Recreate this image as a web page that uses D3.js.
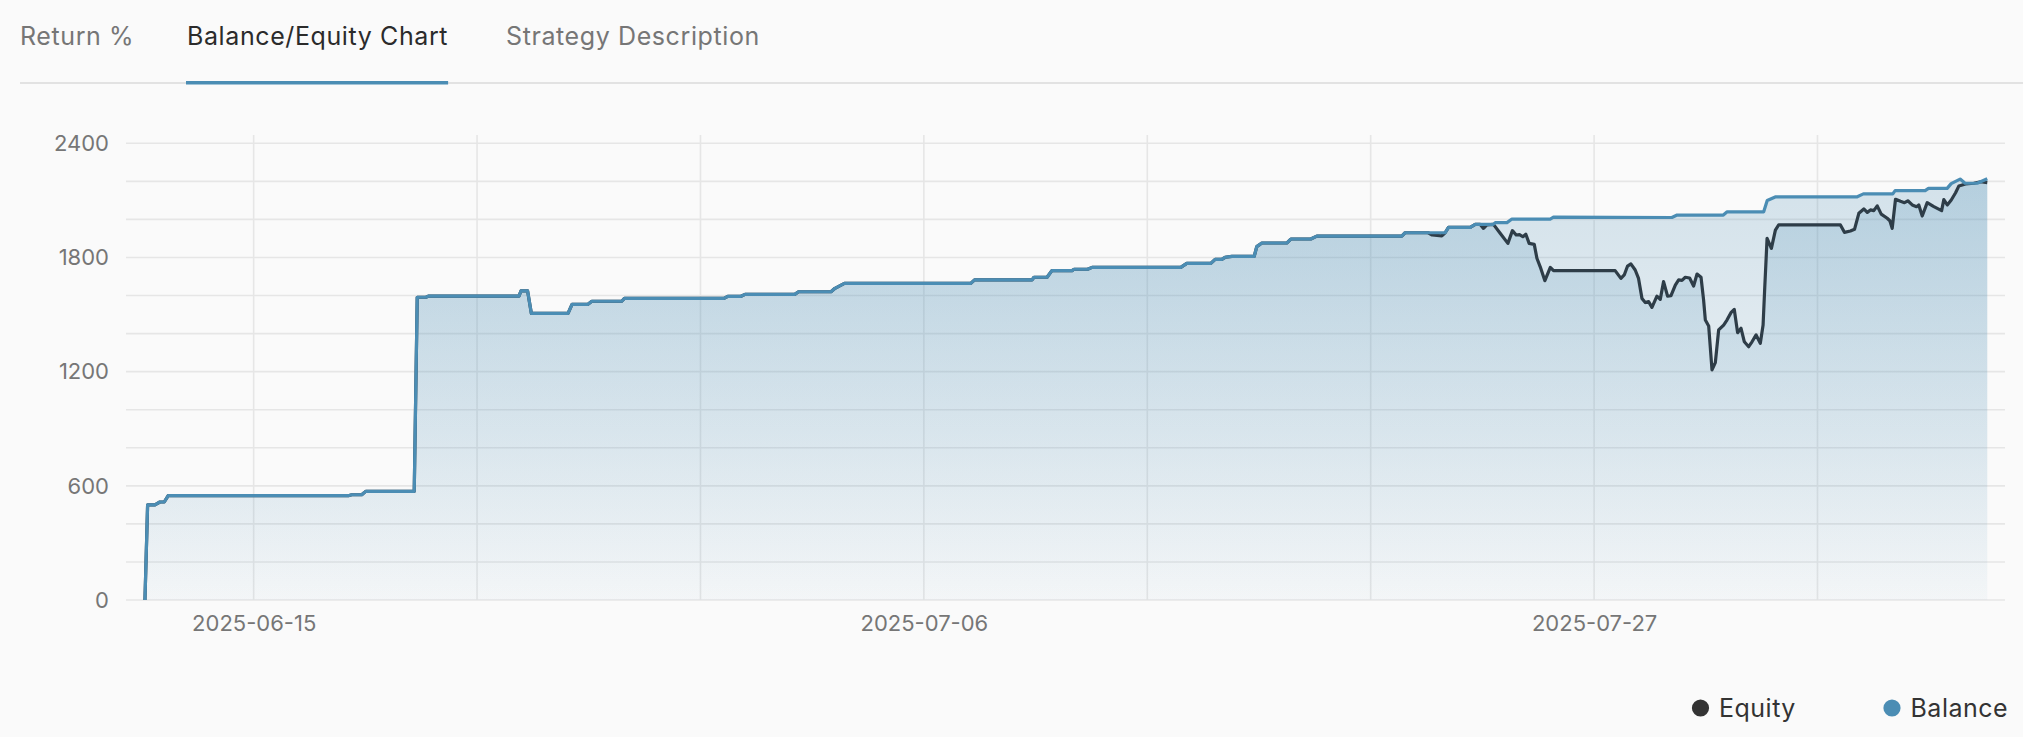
<!DOCTYPE html>
<html><head><meta charset="utf-8">
<script src="https://cdn.jsdelivr.net/npm/d3@7"></script>
<style>
html,body{margin:0;padding:0;background:#fafafa;}
svg{display:block;font-family:Inter,"Noto Sans",sans-serif;}
</style></head><body>
<svg id="chart" width="2023" height="737"></svg>
<script>
// ---------- data ----------
const tabs = ["Return %", "Balance/Equity Chart", "Strategy Description"];
const activeTab = 1;
const yTickLabels = [0, 600, 1200, 1800, 2400];
const yGridValues = [0, 200, 400, 600, 800, 1000, 1200, 1400, 1600, 1800, 2000, 2200, 2400];
const xTickLabels = ["2025-06-15", "2025-07-06", "2025-07-27"];
const xGridDates = ["2025-06-15", "2025-06-22", "2025-06-29", "2025-07-06", "2025-07-13", "2025-07-20", "2025-07-27", "2025-08-03"];
const seriesNames = ["Equity", "Balance"];

const balanceDates = [
  "06-11 14:15","06-11 16:15","06-11 21:45","06-12 01:30","06-12 04:45","06-12 07:45",
  "06-17 23:10","06-18 01:45","06-18 09:15","06-18 12:15","06-20 00:45","06-20 03:00",
  "06-20 09:35","06-20 11:20","06-23 07:30","06-23 09:00","06-23 14:00","06-23 16:50",
  "06-24 20:24","06-24 23:24","06-25 11:25","06-25 14:18","06-26 12:47","06-26 14:49",
  "06-29 17:38","06-29 20:30","06-30 06:30","06-30 09:30","07-01 22:54","07-02 01:45",
  "07-03 02:10","07-03 05:08","07-03 12:15","07-07 11:15","07-07 14:06","07-09 09:22",
  "07-09 10:48","07-09 20:38","07-10 00:15","07-10 15:27","07-10 16:57","07-11 03:07",
  "07-11 06:30","07-14 01:12","07-14 05:42","07-14 23:45","07-15 03:00","07-15 08:02",
  "07-15 10:30","07-15 15:36","07-16 08:24","07-16 10:20","07-16 14:10","07-17 08:53",
  "07-17 11:55","07-18 02:58","07-18 07:28","07-20 23:25","07-21 01:55","07-22 08:00",
  "07-22 10:30","07-23 02:52","07-23 06:37","07-23 20:10","07-23 21:40","07-24 06:28",
  "07-24 10:13","07-25 15:00","07-25 17:27","07-29 10:30","07-29 14:25","07-31 01:12",
  "07-31 04:03","08-01 07:33","08-01 10:11","08-01 16:12","08-04 05:30","08-04 10:30",
  "08-05 08:38","08-05 10:22","08-06 08:58","08-06 11:27","08-07 01:30","08-07 04:30",
  "08-07 11:15","08-07 15:00","08-08 00:05","08-08 07:40"
];
const balanceValues = [
  0, 500, 500, 515, 515, 548,
  548, 553, 553, 571, 571, 1591,
  1591, 1597, 1597, 1624, 1624, 1506,
  1506, 1554, 1554, 1570, 1570, 1585,
  1585, 1596, 1596, 1606, 1606, 1620,
  1620, 1638, 1664, 1664, 1682, 1682,
  1696, 1696, 1731, 1731, 1738, 1738,
  1748, 1748, 1769, 1769, 1790, 1790,
  1801, 1806, 1806, 1857, 1876, 1876,
  1897, 1897, 1912, 1912, 1930, 1930,
  1958, 1958, 1974, 1974, 1983, 1983,
  2002, 2002, 2012, 2010, 2023, 2023,
  2040, 2040, 2099, 2118, 2118, 2134,
  2134, 2151, 2151, 2163, 2163, 2188,
  2212, 2190, 2190, 2214
];

// equity equals balance (no open trades) until 07-21; afterwards its own readings
const equitySplitDate = "07-21 01:55";
const equityDates = [
  "07-21 19:15","07-21 22:17","07-22 05:30","07-22 08:00","07-22 10:30","07-23 02:52",
  "07-23 06:37","07-23 10:20","07-23 12:50","07-23 15:20","07-23 20:20","07-24 01:22",
  "07-24 07:10","07-24 10:35","07-24 13:25","07-24 15:55","07-24 18:25","07-24 20:40",
  "07-24 23:10","07-25 03:00","07-25 05:00","07-25 07:30","07-25 11:00","07-25 15:05",
  "07-25 17:30","07-27 15:50","07-27 20:10","07-27 22:40","07-28 01:10","07-28 03:40",
  "07-28 06:55","07-28 09:25","07-28 12:00","07-28 14:30","07-28 17:00","07-28 19:30",
  "07-28 23:15","07-29 01:45","07-29 04:15","07-29 07:15","07-29 09:50","07-29 13:05",
  "07-29 15:35","07-29 18:05","07-29 20:35","07-29 23:50","07-30 02:50","07-30 05:25",
  "07-30 08:25","07-30 10:20","07-30 11:40","07-30 14:10","07-30 16:40","07-30 19:10",
  "07-30 21:40","07-31 01:25","07-31 03:55","07-31 06:55","07-31 09:25","07-31 11:55",
  "07-31 14:30","07-31 17:00","07-31 20:15","07-31 22:45","08-01 01:50","08-01 05:00",
  "08-01 07:05","08-01 08:15","08-01 10:05","08-01 13:20","08-01 16:20","08-01 18:50",
  "08-03 17:15","08-03 20:15","08-04 00:45","08-04 03:50","08-04 07:05","08-04 10:50",
  "08-04 13:25","08-04 15:50","08-04 18:20","08-04 20:55","08-04 23:55","08-05 04:25",
  "08-05 06:25","08-05 08:10","08-05 10:40","08-05 14:25","08-05 17:25","08-05 19:55",
  "08-05 23:15","08-06 02:30","08-06 04:10","08-06 06:45","08-06 10:30","08-06 15:30",
  "08-06 21:20","08-06 23:00","08-07 01:35","08-07 04:35","08-07 07:50","08-07 10:20",
  "08-07 15:20","08-07 21:35","08-08 02:40","08-08 07:40"
];
const equityValues = [
  1930, 1918, 1914, 1930, 1958, 1958,
  1974, 1974, 1953, 1971, 1974, 1927,
  1874, 1941, 1918, 1920, 1909, 1922,
  1874, 1869, 1796, 1751, 1678, 1748,
  1731, 1731, 1690, 1708, 1755, 1766,
  1734, 1690, 1585, 1563, 1568, 1538,
  1597, 1580, 1673, 1597, 1599, 1655,
  1682, 1680, 1696, 1692, 1650, 1713,
  1696, 1577, 1471, 1440, 1209, 1247,
  1419, 1445, 1471, 1510, 1527, 1405,
  1428, 1357, 1331, 1357, 1393, 1349,
  1445, 1629, 1901, 1848, 1944, 1972,
  1971, 1932, 1939, 1948, 2032, 2055,
  2037, 2050, 2046, 2071, 2028, 2006,
  1993, 1953, 2106, 2095, 2088, 2098,
  2076, 2067, 2076, 2018, 2088, 2067,
  2046, 2104, 2076, 2102, 2140, 2176,
  2186, 2190, 2198, 2193
];

// ---------- setup ----------
const parse = d3.timeParse("%Y-%m-%d %H:%M");
const p = s => parse("2025-" + s);
const balance = balanceDates.map((d, i) => ({ t: p(d), v: balanceValues[i] }));
const splitT = p(equitySplitDate);
const equity = balance.filter(d => d.t <= splitT)
  .concat(equityDates.map((d, i) => ({ t: p(d), v: equityValues[i] })));

const W = 2023, H = 737;
const plot = { left: 126, right: 2005, top: 143.3, bottom: 600 };
const blue = "#4b8db4", dark = "#2e3d48";
const FONT = "Inter,'Noto Sans',sans-serif";

const x = d3.scaleTime()
  .domain([new Date(2025, 5, 11, 0, 0), new Date(2025, 7, 8, 21, 0)])
  .range([plot.left, plot.right]);
const y = d3.scaleLinear().domain([0, 2400]).range([plot.bottom, plot.top]);

const svg = d3.select("#chart");

// ---------- tabs ----------
const tabX = [20, 187, 506];
const tabG = svg.append("g");
tabs.forEach((t, i) => {
  tabG.append("text").attr("x", tabX[i]).attr("y", 45)
    .attr("font-size", 25).attr("letter-spacing", 0.6)
    .attr("fill", i === activeTab ? "#2b2b2b" : "#767676")
    .text(t);
});
svg.append("rect").attr("x", 20).attr("y", 82).attr("width", W - 20).attr("height", 2).attr("fill", "#e2e2e2");
const activeLen = tabG.selectAll("text").nodes()[activeTab].getComputedTextLength();
svg.append("rect").attr("x", tabX[activeTab] - 1).attr("y", 81).attr("width", activeLen + 1).attr("height", 3.5).attr("fill", blue);

// ---------- gradient ----------
const defs = svg.append("defs");
const grad = defs.append("linearGradient").attr("id", "areaGrad")
  .attr("gradientUnits", "userSpaceOnUse")
  .attr("x1", 0).attr("x2", 0).attr("y1", plot.top).attr("y2", plot.bottom);
grad.append("stop").attr("offset", 0).attr("stop-color", blue).attr("stop-opacity", 0.24);
grad.append("stop").attr("offset", 1).attr("stop-color", blue).attr("stop-opacity", 0.02);

// ---------- grid ----------
const grid = svg.append("g");
grid.selectAll("line.h").data(yGridValues).join("line")
  .attr("x1", plot.left).attr("x2", plot.right)
  .attr("y1", d => y(d)).attr("y2", d => y(d))
  .attr("stroke", "#e6e6e6").attr("stroke-width", 1.6);
grid.selectAll("line.v").data(xGridDates).join("line")
  .attr("x1", d => x(p(d.slice(5) + " 00:00"))).attr("x2", d => x(p(d.slice(5) + " 00:00")))
  .attr("y1", 135).attr("y2", plot.bottom)
  .attr("stroke", "#e6e6e6").attr("stroke-width", 1.6);

// ---------- axes ----------
const yAxis = d3.axisLeft(y).tickValues(yTickLabels).tickFormat(d3.format("d")).tickSize(0).tickPadding(0);
const yg = svg.append("g").attr("transform", `translate(109,0)`).call(yAxis);
yg.select(".domain").remove();
yg.selectAll("text").attr("font-size", 22).attr("fill", "#767676")
  .attr("font-family", FONT).attr("dy", "0.33em").attr("x", 0);

const xAxis = d3.axisBottom(x).tickValues(xTickLabels.map(s => p(s.slice(5) + " 00:00")))
  .tickSize(0).tickPadding(0).tickFormat(d3.timeFormat("%Y-%m-%d"));
const xg = svg.append("g").attr("transform", `translate(0,624)`).call(xAxis);
xg.select(".domain").remove();
xg.selectAll("text").attr("font-size", 22).attr("fill", "#767676")
  .attr("font-family", FONT).attr("dy", "0.33em").attr("y", 0);

// ---------- areas & lines ----------
const area = d3.area().x(d => x(d.t)).y0(plot.bottom).y1(d => y(d.v));
const line = d3.line().x(d => x(d.t)).y(d => y(d.v));

svg.append("path").datum(balance).attr("d", area).attr("fill", "url(#areaGrad)");
svg.append("path").datum(equity).attr("d", area).attr("fill", "url(#areaGrad)");
svg.append("path").datum(equity).attr("d", line).attr("fill", "none")
  .attr("stroke", dark).attr("stroke-width", 3.2).attr("stroke-linejoin", "round");
svg.append("path").datum(balance).attr("d", line).attr("fill", "none")
  .attr("stroke", blue).attr("stroke-width", 3.2).attr("stroke-linejoin", "round");

// ---------- legend ----------
const legendX = [1700.5, 1892];
const legendColors = ["#333333", blue];
seriesNames.forEach((n, i) => {
  svg.append("circle").attr("cx", legendX[i]).attr("cy", 708).attr("r", 8.6).attr("fill", legendColors[i]);
  svg.append("text").attr("x", legendX[i] + 18.5).attr("y", 716.5)
    .attr("font-size", 25).attr("letter-spacing", 0.5).attr("fill", "#333").text(n);
});
</script>
</body></html>
